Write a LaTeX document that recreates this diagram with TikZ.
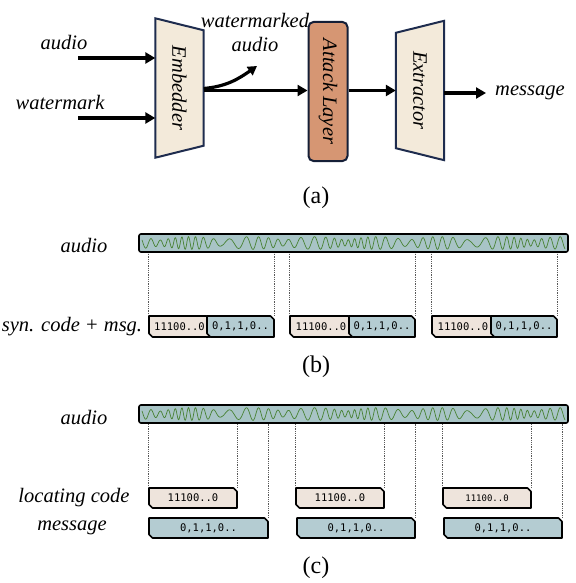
\documentclass[tikz,border=0pt]{standalone}
\usepackage{fontspec}
\setmainfont{Liberation Serif}
\setmonofont{DejaVu Sans Mono}
\usepackage{tikz}
\usetikzlibrary{positioning}
\usetikzlibrary{arrows.meta}
\definecolor{blockbeige}{RGB}{243,234,218}
\definecolor{blocknavy}{RGB}{30,44,78}
\definecolor{attackbrown}{RGB}{214,150,115}
\definecolor{barteal}{RGB}{168,196,198}
\definecolor{wavegreen}{RGB}{72,130,52}
\definecolor{codepink}{RGB}{238,228,220}
\definecolor{msgblue}{RGB}{180,204,210}

% chamfered bit box: name, x1, x2, ytop, ybot, fill, text
\newcommand{\bitbox}[7]{%
  \filldraw[fill=#6, bitline] (#2,#4) -- (#3-3.5,#4) -- (#3,#4-3.5) -- (#3,#5)
    -- (#2+3.5,#5) -- (#2,#5+3.5) -- cycle;
  \node[bitnode, minimum width=#3-#2, minimum height=#4-#5] (#1) at ({(#2+#3)/2},{(#4+#5)/2}) {#7};
}

\begin{document}
\begin{tikzpicture}[x=1pt, y=1pt,
  lbl/.style={font=\fontsize{20.5}{24}\selectfont\itshape, inner sep=0pt},
  caption/.style={font=\fontsize{24}{28}\selectfont, inner sep=0pt},
  flow/.style={line width=3.2pt, -{Triangle[length=10pt,width=11pt]}},
  block/.style={draw=none, inner sep=0pt, minimum height=139pt, font=\fontsize{20.5}{24}\selectfont\itshape},
  trap/.style={draw=blocknavy, line width=2pt, fill=blockbeige, line join=miter},
  audiobar/.style={draw=black, line width=1.6pt, fill=barteal, rounded corners=2pt, minimum width=429pt, minimum height=18pt, inner sep=0pt},
  bitline/.style={draw=black, line width=1.6pt, line join=round},
  bitnode/.style={draw=none, inner sep=0pt, font=\ttfamily\fontsize{10.5}{12}\selectfont},
  guide/.style={densely dotted, gray!70!black, line width=0.8pt},
  wavy/.style={wavegreen, line width=0.7pt}
]
\useasboundingbox (0,0) rectangle (575,-583);
%
\def\audiowave#1{plot[domain=-211:212, samples=900] (\x+353, {#1 + 6.4*(0.45+0.55*abs(sin(2.9*\x+20)))*sin(36*\x + 300*sin(1.9*\x) + 150*sin(4.3*\x))})}

%
% (a) pipeline
\node[block, minimum width=48pt] (emb) at (179.5,-88) {};
\draw[trap] (emb.north west) -- ([yshift=-12pt]emb.north east) -- ([yshift=12pt]emb.south east) -- (emb.south west) -- cycle;
\node[font=\fontsize{20.5}{24}\selectfont\itshape] (embtxt) at (emb.center) {\rotatebox{-90}{Embedder}};

\node[block, minimum width=39pt, draw=blocknavy!70!black, line width=2pt, fill=attackbrown, rounded corners=5pt] (att) at (328,-91.5) {\rotatebox{-90}{Attack Layer}};

\node[block, minimum width=48pt] (ext) at (420,-90.5) {};
\draw[trap] ([yshift=-12pt]ext.north west) -- (ext.north east) -- (ext.south east) -- ([yshift=12pt]ext.south west) -- cycle;
\node[font=\fontsize{20.5}{24}\selectfont\itshape] (exttxt) at (ext.center) {\rotatebox{-90}{Extractor}};

\node[lbl] (inaudio) at (64,-43) {audio};
\node[lbl] (inwm) at (60,-102) {watermark};
\node[lbl] (wmtxt) at (255,-20) {watermarked};
\node[lbl] (wmaudio) at (255,-45) {audio};
\node[lbl, anchor=west] (msg) at (495,-93) {message};

\coordinate (a1) at (78,-58);
\coordinate (a2) at (78,-118);
\coordinate (wmtip) at (257,-66);
\coordinate (m1) at (0,-90.5);
\coordinate (m2) at (486,-93);

\draw[flow] (a1) -- (a1 -| emb.west);
\draw[flow] (a2) -- (a2 -| emb.west);
\draw[flow] (emb.east |- m1) -- (att.west |- m1);
\draw[line width=3.2pt, -{Triangle[length=9pt,width=10pt]}] ([yshift=2pt]emb.east |- m1) to[out=5, in=215] (wmtip);
\draw[flow] (att.east |- m1) -- (ext.west |- m1);
\draw[flow] (ext.east |- m2) -- (m2);

\node[caption] (capa) at (316,-198) {(a)};

%
% (b) synchronisation code
\node[audiobar] (barb) at (353.5,-243) {};
\draw[wavy] \audiowave{-243};
\node[lbl] (audiob) at (84,-246) {audio};
\node[lbl] (synlbl) at (72,-327) {syn. code + msg.};

\bitbox{sb1}{149}{210}{-316}{-337}{codepink}{11100..0}
\bitbox{mb1}{207}{274}{-316}{-337}{msgblue}{0,1,1,0..}
\bitbox{sb2}{290}{352}{-316}{-337}{codepink}{11100..0}
\bitbox{mb2}{349}{415}{-316}{-337}{msgblue}{0,1,1,0..}
\bitbox{sb3}{432}{494}{-316}{-337}{codepink}{11100..0}
\bitbox{mb3}{491}{557}{-316}{-337}{msgblue}{0,1,1,0..}

\foreach \s/\m in {sb1/mb1, sb2/mb2, sb3/mb3} {
  \draw[guide] (\s.north west) -- (\s.north west |- barb.south);
  \draw[guide] (\m.north east) -- (\m.north east |- barb.south);
}

\node[caption] (capb) at (316,-367) {(b)};

%
% (c) locating code
\node[audiobar] (barc) at (353.5,-414) {};
\draw[wavy] \audiowave{-414};
\node[lbl] (audioc) at (84,-418) {audio};
\node[lbl] (loclbl) at (74,-498) {locating code};
\node[lbl] (msglbl) at (72,-528) {message};

\bitbox{lc1}{149}{237}{-488}{-508}{codepink}{11100..0}
\bitbox{lc2}{296}{384}{-488}{-508}{codepink}{11100..0}
\bitbox{lc3}{443}{531}{-488}{-508}{codepink}{\fontsize{9}{10}\selectfont 11100..0}
\bitbox{mc1}{149}{268}{-518}{-538}{msgblue}{0,1,1,0..}
\bitbox{mc2}{297}{415}{-518}{-538}{msgblue}{0,1,1,0..}
\bitbox{mc3}{444}{562}{-518}{-538}{msgblue}{0,1,1,0..}

\foreach \l/\m in {lc1/mc1, lc2/mc2, lc3/mc3} {
  \draw[guide] (\l.north west) -- (\l.north west |- barc.south);
  \draw[guide] (\l.north east) -- (\l.north east |- barc.south);
  \draw[guide] (\m.north east) -- (\m.north east |- barc.south);
}

\node[caption] (capc) at (316,-568) {(c)};

\end{tikzpicture}
\end{document}
